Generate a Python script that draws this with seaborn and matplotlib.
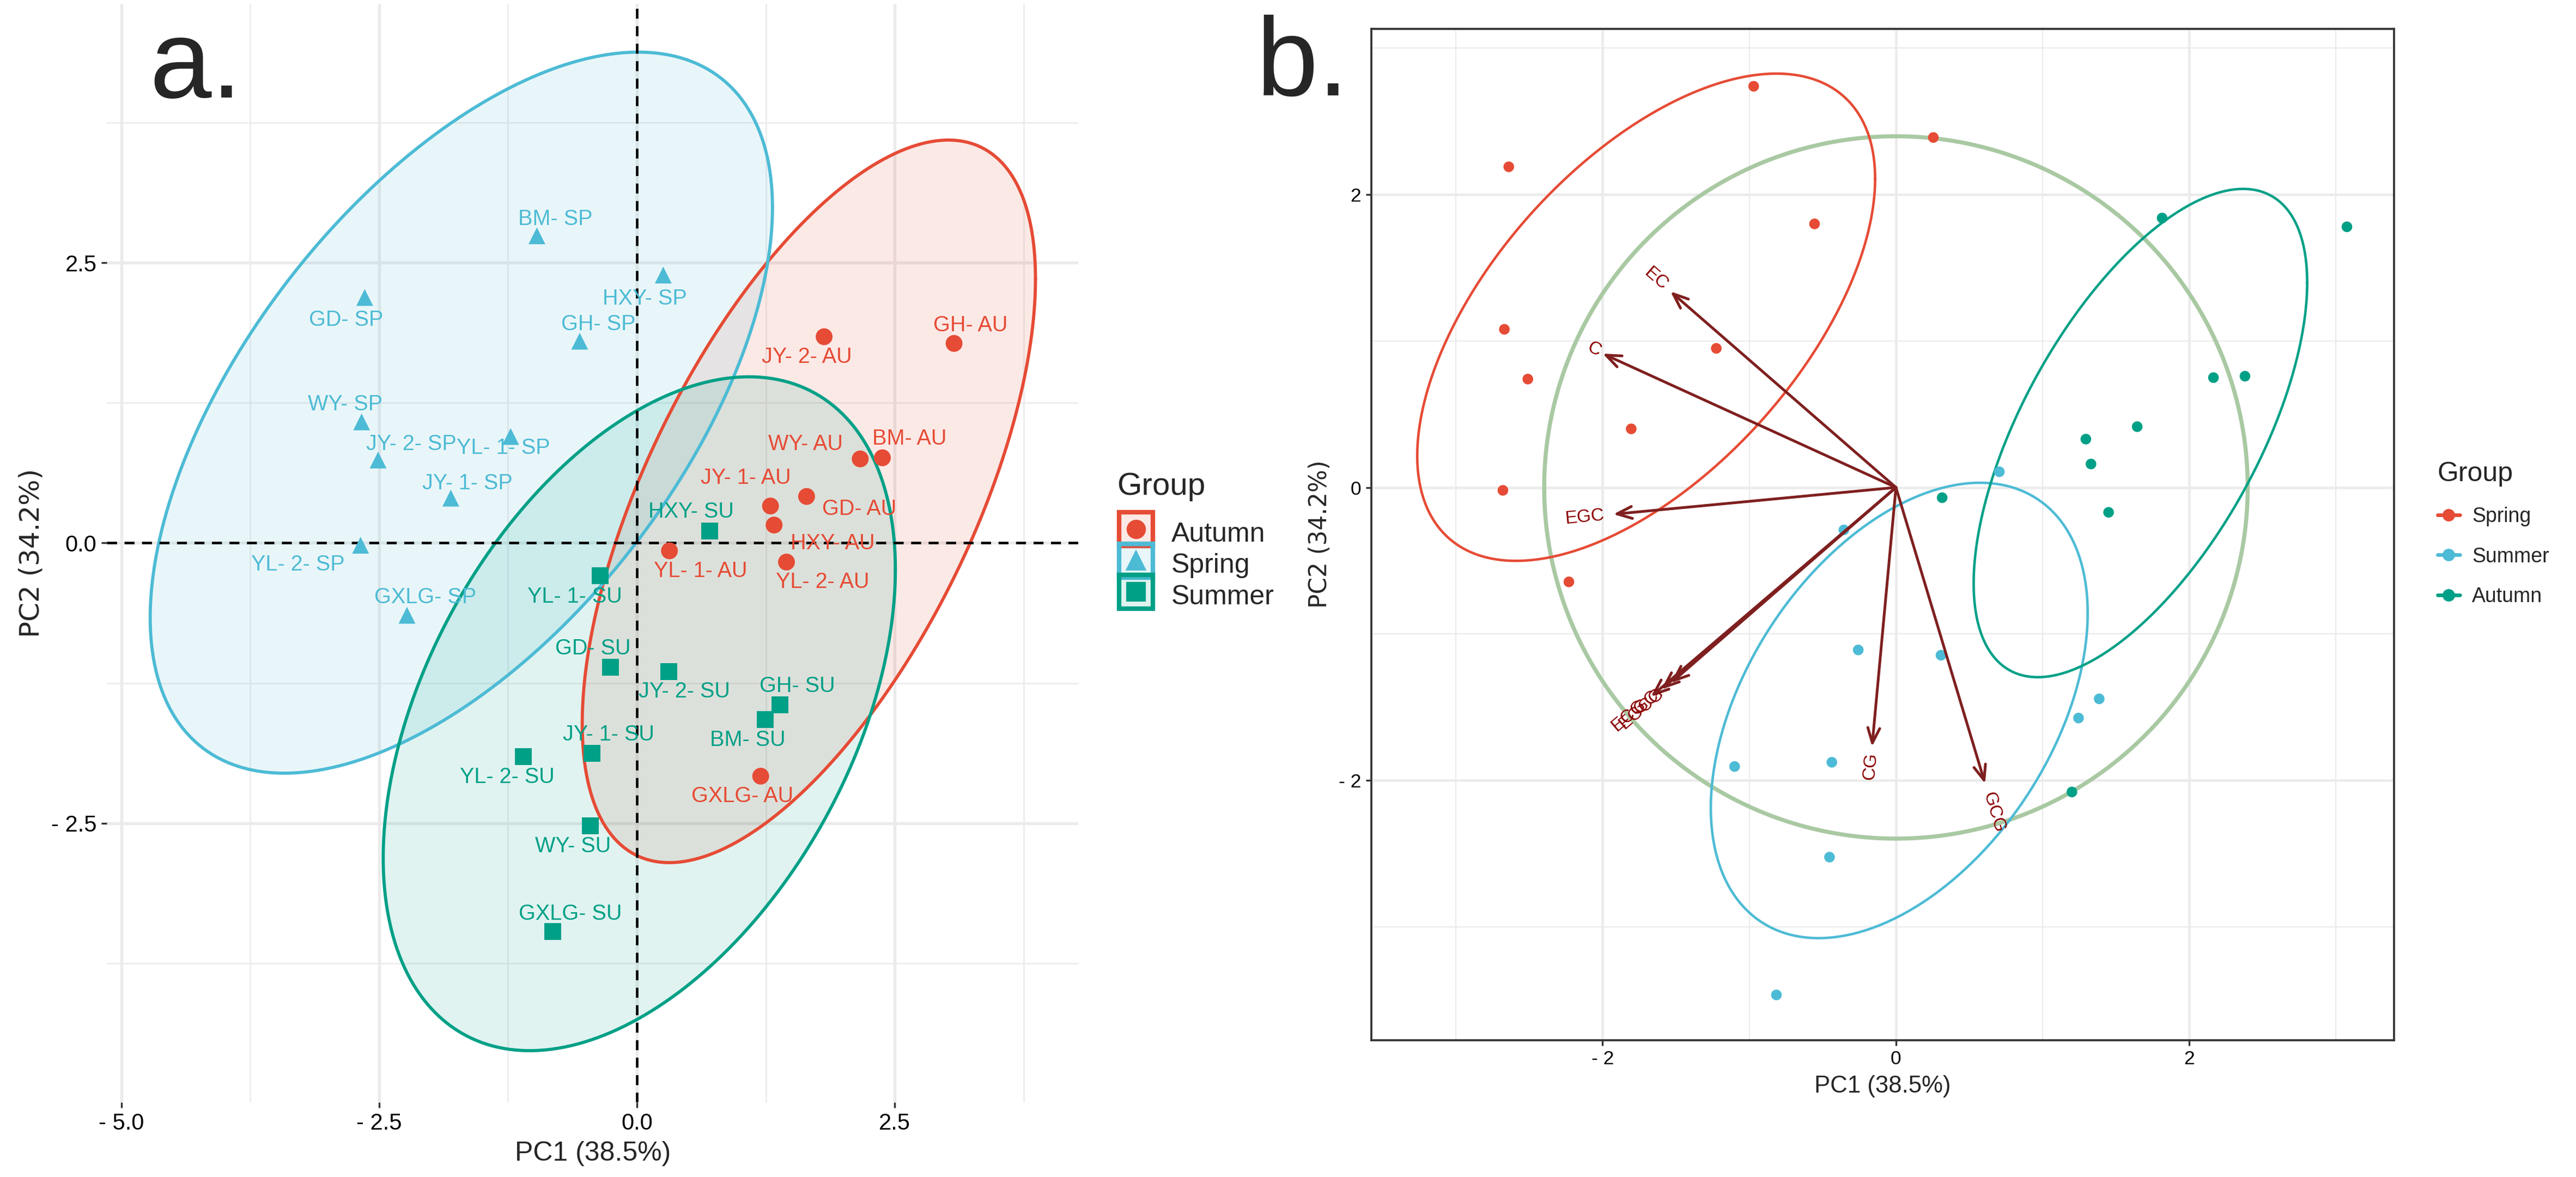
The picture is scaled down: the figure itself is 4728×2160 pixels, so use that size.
import numpy as np
import pandas as pd
import seaborn as sns
import matplotlib.pyplot as plt
from matplotlib.lines import Line2D
from matplotlib.colors import to_rgba
from matplotlib.legend_handler import HandlerTuple
from matplotlib.ticker import FixedLocator

# PCA scores (same samples in both panels)
spring_sites = ['BM', 'HXY', 'GD', 'GH', 'WY', 'YL- 1', 'JY- 2', 'JY- 1', 'YL- 2', 'GXLG']
spring_pc1 = [-0.97, 0.255, -2.64, -0.555, -2.67, -1.225, -2.51, -1.805, -2.68, -2.23]
spring_pc2 = [2.74, 2.39, 2.19, 1.80, 1.08, 0.95, 0.74, 0.40, -0.02, -0.645]

autumn_sites = ['JY- 2', 'GH', 'BM', 'WY', 'GD', 'JY- 1', 'HXY', 'YL- 1', 'YL- 2', 'GXLG']
autumn_pc1 = [1.815, 3.075, 2.38, 2.165, 1.645, 1.295, 1.33, 0.315, 1.45, 1.20]
autumn_pc2 = [1.84, 1.78, 0.76, 0.75, 0.415, 0.33, 0.16, -0.07, -0.17, -2.08]

summer_sites = ['HXY', 'YL- 1', 'GD', 'JY- 2', 'GH', 'BM', 'JY- 1', 'YL- 2', 'WY', 'GXLG']
summer_pc1 = [0.705, -0.355, -0.257, 0.307, 1.386, 1.245, -0.437, -1.10, -0.453, -0.815]
summer_pc2 = [0.107, -0.29, -1.11, -1.146, -1.444, -1.575, -1.877, -1.906, -2.525, -3.466]

# loadings (arrow tips) in panel b
var_names = ['C', 'EC', 'EGC', 'GC', 'ECG', 'EGCG', 'CG', 'GCG']
load_pc1 = [-2.00, -1.538, -1.927, -1.60, -1.671, -1.535, -0.163, 0.608]
load_pc2 = [0.914, 1.339, -0.183, -1.38, -1.429, -1.336, -1.770, -2.023]

# where the repelled text labels ended up (offset from point, data units)
spring_off = [(0.18, 0.15), (-0.18, -0.21), (-0.18, -0.20), (0.18, 0.15), (-0.16, 0.155),
              (-0.07, -0.10), (0.32, 0.14), (0.16, 0.13), (-0.61, -0.17), (0.18, 0.16)]
autumn_off = [(-0.17, -0.18), (0.16, 0.16), (0.26, 0.17), (-0.53, 0.13), (0.51, -0.11),
              (-0.24, 0.25), (0.57, -0.165), (0.30, -0.18), (0.35, -0.18), (-0.18, -0.18)]
summer_off = [(-0.18, 0.17), (-0.25, -0.19), (-0.17, 0.17), (0.15, -0.18), (0.17, 0.17),
              (-0.17, -0.18), (0.16, 0.17), (-0.16, -0.18), (-0.17, -0.18), (0.17, 0.16)]

RED, BLUE, GREEN = '#E64B35', '#4DBBD5', '#00A087'


def make_df(sites, pc1, pc2, offs, group, suffix):
    return pd.DataFrame({'label': [f'{s}- {suffix}' for s in sites], 'group': group,
                         'PC1': pc1, 'PC2': pc2,
                         'dx': [o[0] for o in offs], 'dy': [o[1] for o in offs]})


df = pd.concat([make_df(autumn_sites, autumn_pc1, autumn_pc2, autumn_off, 'Autumn', 'AU'),
                make_df(spring_sites, spring_pc1, spring_pc2, spring_off, 'Spring', 'SP'),
                make_df(summer_sites, summer_pc1, summer_pc2, summer_off, 'Summer', 'SU')],
               ignore_index=True)


def ellipse_xy(x, y, radius, n=240):
    xy = np.column_stack([x, y])
    chol = np.linalg.cholesky(np.cov(xy.T))
    t = np.linspace(0, 2 * np.pi, n)
    pts = xy.mean(axis=0) + radius * np.column_stack([np.cos(t), np.sin(t)]) @ chol.T
    return pts[:, 0], pts[:, 1]


def f_quantile_df2(p, dfd):
    # closed form of qf(p, 2, dfd)
    return dfd / 2 * ((1 - p) ** (-2 / dfd) - 1)


def minus_fmt(v, digits):
    s = f'{abs(v):.{digits}f}'
    return f'- {s}' if v < 0 else s


sns.set_theme(style='white')
plt.rcParams['font.family'] = ['Liberation Sans', 'DejaVu Sans']

fig = plt.figure(figsize=(15.76, 7.2), dpi=300)
ax_a = fig.add_axes([0.0415, 0.0634, 0.3771, 0.9334])
ax_b = fig.add_axes([0.5323, 0.1164, 0.3971, 0.8592])

# ---------------- panel a ----------------
pal_a = {'Autumn': RED, 'Spring': BLUE, 'Summer': GREEN}
marks_a = {'Autumn': 'o', 'Spring': '^', 'Summer': 's'}

for g, c in pal_a.items():
    sub = df[df.group == g]
    n = len(sub)
    r = np.sqrt(2 * f_quantile_df2(0.95, n - 1))
    ex, ey = ellipse_xy(sub.PC1, sub.PC2, r)
    ax_a.fill(ex, ey, color=c, alpha=0.12, lw=0, zorder=2)
    ax_a.plot(ex, ey, color=c, lw=1.4, zorder=3)

ax_a.axhline(0, color='black', ls=(0, (4, 3)), lw=1.1, zorder=4)
ax_a.axvline(0, color='black', ls=(0, (4, 3)), lw=1.1, zorder=4)

sns.scatterplot(data=df, x='PC1', y='PC2', hue='group', style='group',
                palette=pal_a, markers=marks_a, s=55, edgecolor='none',
                legend=False, ax=ax_a, zorder=5)

for _, row in df.iterrows():
    ax_a.text(row.PC1 + row.dx, row.PC2 + row.dy, row.label, color=pal_a[row.group],
              fontsize=9.5, ha='center', va='center', zorder=6)

ax_a.set_xlim(-5.14, 4.28)
ax_a.set_ylim(-4.99, 4.81)
ax_a.xaxis.set_major_locator(FixedLocator([-5.0, -2.5, 0.0, 2.5]))
ax_a.yaxis.set_major_locator(FixedLocator([-2.5, 0.0, 2.5]))
ax_a.xaxis.set_minor_locator(FixedLocator([-3.75, -1.25, 1.25, 3.75]))
ax_a.yaxis.set_minor_locator(FixedLocator([-3.75, -1.25, 1.25, 3.75]))
ax_a.set_xticklabels([minus_fmt(v, 1) for v in [-5.0, -2.5, 0.0, 2.5]])
ax_a.set_yticklabels([minus_fmt(v, 1) for v in [-2.5, 0.0, 2.5]])
ax_a.grid(which='major', color='#EBEBEB', lw=1.3, zorder=0)
ax_a.grid(which='minor', color='#EBEBEB', lw=0.6, zorder=0)
ax_a.set_axisbelow(True)
for sp in ax_a.spines.values():
    sp.set_visible(False)
ax_a.tick_params(which='major', length=2.5, width=0.8, color='#333333', labelsize=10,
                 labelcolor='black', pad=2, bottom=True, left=True)
ax_a.tick_params(which='minor', length=0)
ax_a.set_xlabel('PC1 (38.5%)', fontsize=12, labelpad=3)
ax_a.set_ylabel('PC2 (34.2%)', fontsize=12, labelpad=3, family=['DejaVu Sans'])

# legend keys: tinted square with coloured border, group marker on top
handles_a = [(Line2D([], [], ls='none', marker='s', markersize=15,
                     markerfacecolor=to_rgba(c, 0.12), markeredgecolor=c, markeredgewidth=2.0),
              Line2D([], [], ls='none', marker=marks_a[g], color=c, markersize=7.5))
             for g, c in pal_a.items()]
fig.text(0.4336, 0.5866, 'Group', fontsize=14, ha='left', va='center')
fig.legend(handles_a, list(pal_a.keys()), loc='upper left',
           bbox_to_anchor=(0.4336, 0.561), frameon=False, fontsize=12,
           handler_map={tuple: HandlerTuple(ndivide=1, pad=0)},
           handlelength=1.4, handleheight=1.4, handletextpad=0.6, labelspacing=0.0,
           borderaxespad=0, borderpad=0)

# ---------------- panel b ----------------
pal_b = {'Spring': RED, 'Summer': BLUE, 'Autumn': GREEN}

r_b = np.sqrt(-2 * np.log(1 - 0.68))
for g, c in pal_b.items():
    sub = df[df.group == g]
    ex, ey = ellipse_xy(sub.PC1, sub.PC2, r_b)
    ax_b.plot(ex, ey, color=c, lw=1.1, zorder=3)

# correlation circle, ggbiplot style
r_c = np.sqrt(-2 * np.log(1 - 0.69)) * (np.mean(df.PC1 ** 2) * np.mean(df.PC2 ** 2)) ** 0.25
t = np.linspace(0, 2 * np.pi, 300)
ax_b.plot(r_c * np.cos(t), r_c * np.sin(t), color='#A9C9A3', lw=1.8, zorder=2)

sns.scatterplot(data=df, x='PC1', y='PC2', hue='group', hue_order=list(pal_b.keys()),
                palette=pal_b, s=22, edgecolor='none', legend=False, ax=ax_b, zorder=5)

for name, lx, ly in zip(var_names, load_pc1, load_pc2):
    ax_b.annotate('', xy=(lx, ly), xytext=(0, 0), zorder=6,
                  arrowprops=dict(arrowstyle='->,head_length=0.55,head_width=0.22',
                                  color='#7F1F1F', lw=1.2, shrinkA=0, shrinkB=0))
    ang = np.degrees(np.arctan(ly / lx))
    w = len(name) * 0.68 * 8
    sgn = 1 if lx > 0 else -1
    off = (sgn * 0.25 * w * np.cos(np.radians(ang)), sgn * 0.25 * w * np.sin(np.radians(ang)))
    ax_b.annotate(name, xy=(lx, ly), xytext=off, textcoords='offset points',
                  rotation=ang, rotation_mode='anchor', ha='left' if lx > 0 else 'right',
                  va='center', color='#8B0000', fontsize=8, zorder=7)

ax_b.set_xlim(-3.578, 3.397)
ax_b.set_ylim(-3.774, 3.133)
ax_b.xaxis.set_major_locator(FixedLocator([-2, 0, 2]))
ax_b.yaxis.set_major_locator(FixedLocator([-2, 0, 2]))
ax_b.xaxis.set_minor_locator(FixedLocator([-3, -1, 1, 3]))
ax_b.yaxis.set_minor_locator(FixedLocator([-3, -1, 1, 3]))
ax_b.set_xticklabels([minus_fmt(v, 0) for v in [-2, 0, 2]])
ax_b.set_yticklabels([minus_fmt(v, 0) for v in [-2, 0, 2]])
ax_b.grid(which='major', color='#EBEBEB', lw=1.1, zorder=0)
ax_b.grid(which='minor', color='#EBEBEB', lw=0.55, zorder=0)
ax_b.set_axisbelow(True)
for sp in ax_b.spines.values():
    sp.set_visible(True)
    sp.set_color('#333333')
    sp.set_linewidth(0.9)
ax_b.tick_params(which='major', length=2.5, width=0.8, color='#333333', labelsize=8.5,
                 labelcolor='black', pad=2, bottom=True, left=True)
ax_b.tick_params(which='minor', length=0)
ax_b.set_xlabel('PC1 (38.5%)', fontsize=10.5, labelpad=3)
ax_b.set_ylabel('PC2 (34.2%)', fontsize=10.5, labelpad=3, family=['DejaVu Sans'])

handles_b = [Line2D([], [], color=c, lw=1.6, marker='o', markersize=4.5) for c in pal_b.values()]
fig.legend(handles_b, list(pal_b.keys()), title='Group', loc='upper left',
           bbox_to_anchor=(0.943, 0.615), frameon=False, fontsize=9, title_fontsize=12,
           handlelength=1.1, handletextpad=0.6, labelspacing=1.0, alignment='left',
           borderaxespad=0)

fig.text(0.058, 0.917, 'a.', fontsize=49, va='baseline', ha='left')
fig.text(0.4877, 0.919, 'b.', fontsize=49, va='baseline', ha='left')

fig.savefig('out.png', dpi=300)
